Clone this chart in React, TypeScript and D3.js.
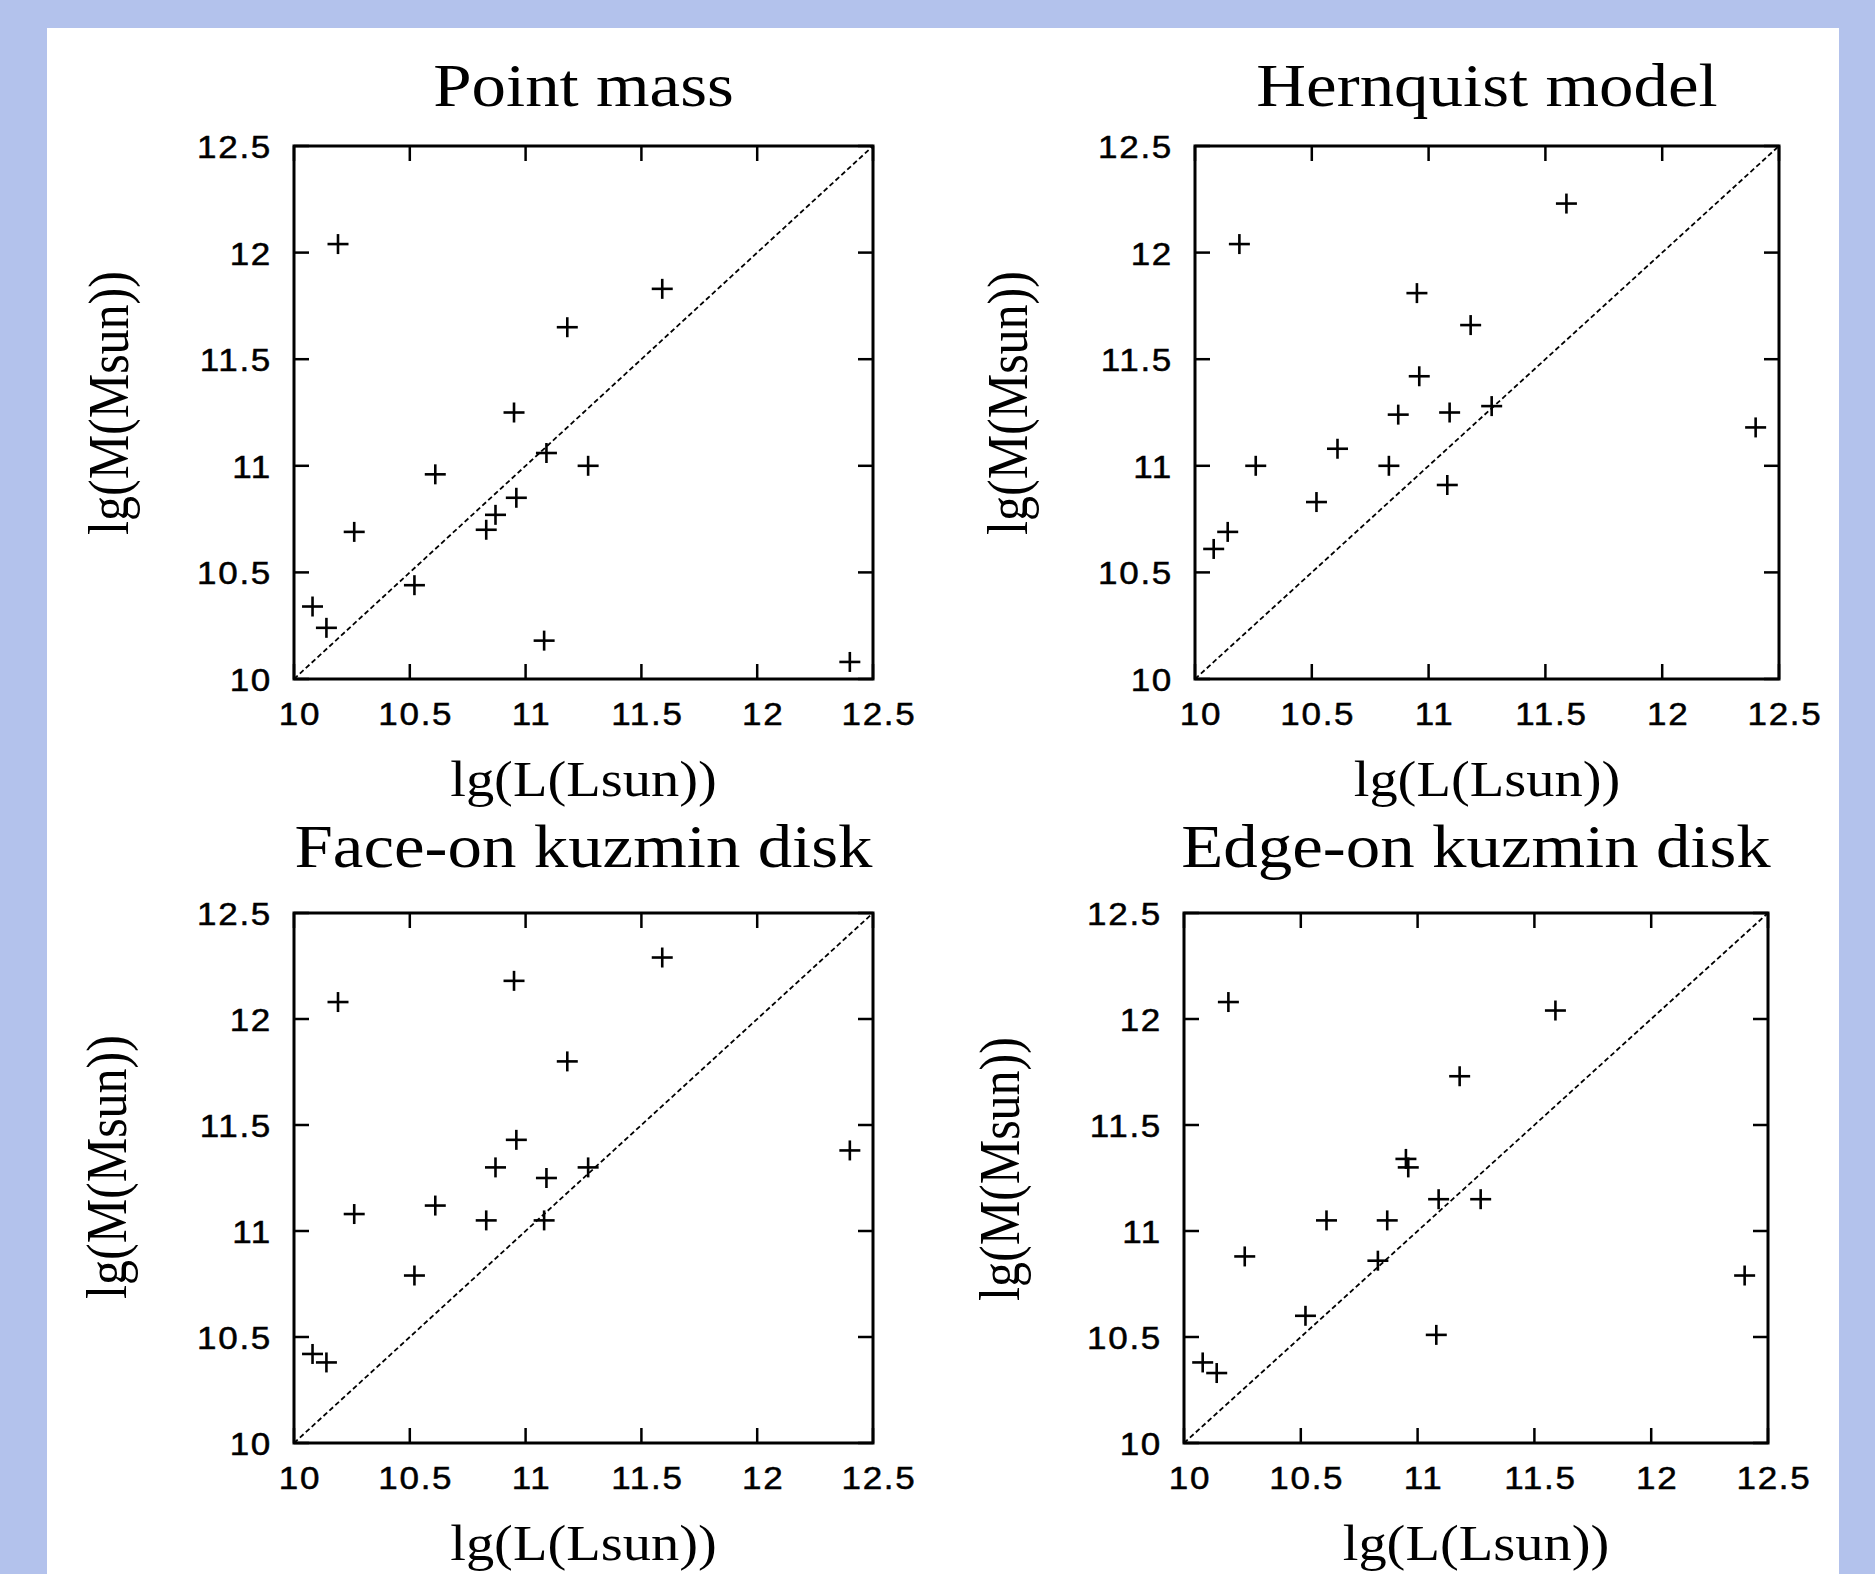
import React from "react";
import * as d3 from "d3";

const TICKS = [10, 10.5, 11, 11.5, 12, 12.5];
const TICK_LABELS = ["10", "10.5", "11", "11.5", "12", "12.5"];
const DOMAIN = [10, 12.5];

// lg(L/Lsun) of the 16 galaxies (shared by all panels)
const LG_L = [10.08, 10.14, 10.19, 10.26, 10.52, 10.61, 10.83, 10.87, 10.95, 10.96, 11.08, 11.09, 11.18, 11.27, 11.59, 12.40];
// lg(M/Msun) per model
const LG_M_POINT = [10.34, 10.24, 12.04, 10.69, 10.44, 10.96, 10.70, 10.77, 11.25, 10.85, 10.18, 11.06, 11.65, 11.00, 11.83, 10.08];
const LG_M_HERNQUIST = [10.61, 10.69, 12.04, 11.00, 10.83, 11.08, 11.00, 11.24, 11.81, 11.42, 10.91, 11.25, 11.66, 11.28, 12.23, 11.18];
const LG_M_FACEON = [10.42, 10.38, 12.08, 11.08, 10.79, 11.12, 11.05, 11.30, 12.18, 11.43, 11.05, 11.25, 11.80, 11.30, 12.29, 11.38];
const LG_M_EDGEON = [10.38, 10.33, 12.08, 10.88, 10.60, 11.05, 10.86, 11.05, 11.34, 11.30, 10.51, 11.15, 11.73, 11.15, 12.04, 10.79];

const TITLES = ["Point mass", "Hernquist model", "Face-on kuzmin disk", "Edge-on kuzmin disk"];
const X_LABEL = "lg(L(Lsun))";
const Y_LABEL = "lg(M(Msun))";

const SERIES = [LG_M_POINT, LG_M_HERNQUIST, LG_M_FACEON, LG_M_EDGEON];

const LAYOUT = [
  { left: 294, right: 873, top: 146, bottom: 679, titleY: 106, xLabelY: 796, yLabelX: 128, yLabelY: 403 },
  { left: 1195, right: 1779, top: 146, bottom: 679, titleY: 106, xLabelY: 796, yLabelX: 1027, yLabelY: 403 },
  { left: 294, right: 873, top: 913, bottom: 1443, titleY: 867, xLabelY: 1560, yLabelX: 126, yLabelY: 1167 },
  { left: 1184, right: 1768, top: 913, bottom: 1443, titleY: 867, xLabelY: 1560, yLabelX: 1019, yLabelY: 1169 },
];

const SX = 1.13;
const SERIF = "'Liberation Serif', 'Times New Roman', serif";
const SANS = "'Liberation Sans', Arial, sans-serif";

function Panel({ idx }: { idx: number }) {
  const L = LAYOUT[idx];
  const x = d3.scaleLinear().domain(DOMAIN).range([L.left, L.right]);
  const y = d3.scaleLinear().domain(DOMAIN).range([L.bottom, L.top]);
  const M = SERIES[idx];
  const tickLen = 15;
  const cx = (L.left + L.right) / 2;
  const diag = d3.line<number>().x((v) => x(v)).y((v) => y(v))(DOMAIN) || "";
  const tickText = {
    fontFamily: SANS,
    fontSize: 31,
    fill: "#000",
    stroke: "#000",
    strokeWidth: 0.5,
    letterSpacing: 1.5,
  } as const;
  return (
    <g>
      <text
        transform={`translate(${cx},${L.titleY}) scale(${SX},1)`}
        textAnchor="middle"
        fontFamily={SERIF}
        fontSize={61}
        fill="#000"
      >
        {TITLES[idx]}
      </text>
      <path d={diag} stroke="#000" strokeWidth={1.8} strokeDasharray="5 3" fill="none" />
      {TICKS.map((t, i) => (
        <g key={"t" + i}>
          <line x1={x(t)} x2={x(t)} y1={L.bottom} y2={L.bottom - tickLen} stroke="#000" strokeWidth={2.5} />
          <line x1={x(t)} x2={x(t)} y1={L.top} y2={L.top + tickLen} stroke="#000" strokeWidth={2.5} />
          <line x1={L.left} x2={L.left + tickLen} y1={y(t)} y2={y(t)} stroke="#000" strokeWidth={2.5} />
          <line x1={L.right} x2={L.right - tickLen} y1={y(t)} y2={y(t)} stroke="#000" strokeWidth={2.5} />
          <text
            transform={`translate(${x(t) + 6},${L.bottom + 46}) scale(${SX},1)`}
            textAnchor="middle"
            {...tickText}
          >
            {TICK_LABELS[i]}
          </text>
          <text
            transform={`translate(${L.left - 22},${y(t) + 12}) scale(${SX},1)`}
            textAnchor="end"
            {...tickText}
          >
            {TICK_LABELS[i]}
          </text>
        </g>
      ))}
      <rect
        x={L.left}
        y={L.top}
        width={L.right - L.left}
        height={L.bottom - L.top}
        fill="none"
        stroke="#000"
        strokeWidth={3}
      />
      {LG_L.map((lx, i) => {
        const px = x(lx);
        const py = y(M[i]);
        return (
          <g key={"p" + i}>
            <line x1={px - 10.5} x2={px + 10.5} y1={py} y2={py} stroke="#000" strokeWidth={2.6} />
            <line x1={px} x2={px} y1={py - 10} y2={py + 10} stroke="#000" strokeWidth={2.6} />
          </g>
        );
      })}
      <text
        transform={`translate(${cx},${L.xLabelY}) scale(${SX},1)`}
        textAnchor="middle"
        fontFamily={SERIF}
        fontSize={50}
        fill="#000"
      >
        {X_LABEL}
      </text>
      <text
        transform={`translate(${L.yLabelX},${L.yLabelY}) scale(${SX},1) rotate(-90)`}
        textAnchor="middle"
        fontFamily={SERIF}
        fontSize={50}
        fill="#000"
      >
        {Y_LABEL}
      </text>
    </g>
  );
}

export default function App() {
  return (
    <svg
      width={1875}
      height={1574}
      style={{ position: "absolute", left: 0, top: 0, display: "block" }}
      xmlns="http://www.w3.org/2000/svg"
    >
      <rect x={0} y={0} width={1875} height={1574} fill="#b3c2ec" />
      <rect x={47} y={28} width={1792} height={1546} fill="#fff" />
      {TITLES.map((_, i) => (
        <Panel key={i} idx={i} />
      ))}
    </svg>
  );
}
